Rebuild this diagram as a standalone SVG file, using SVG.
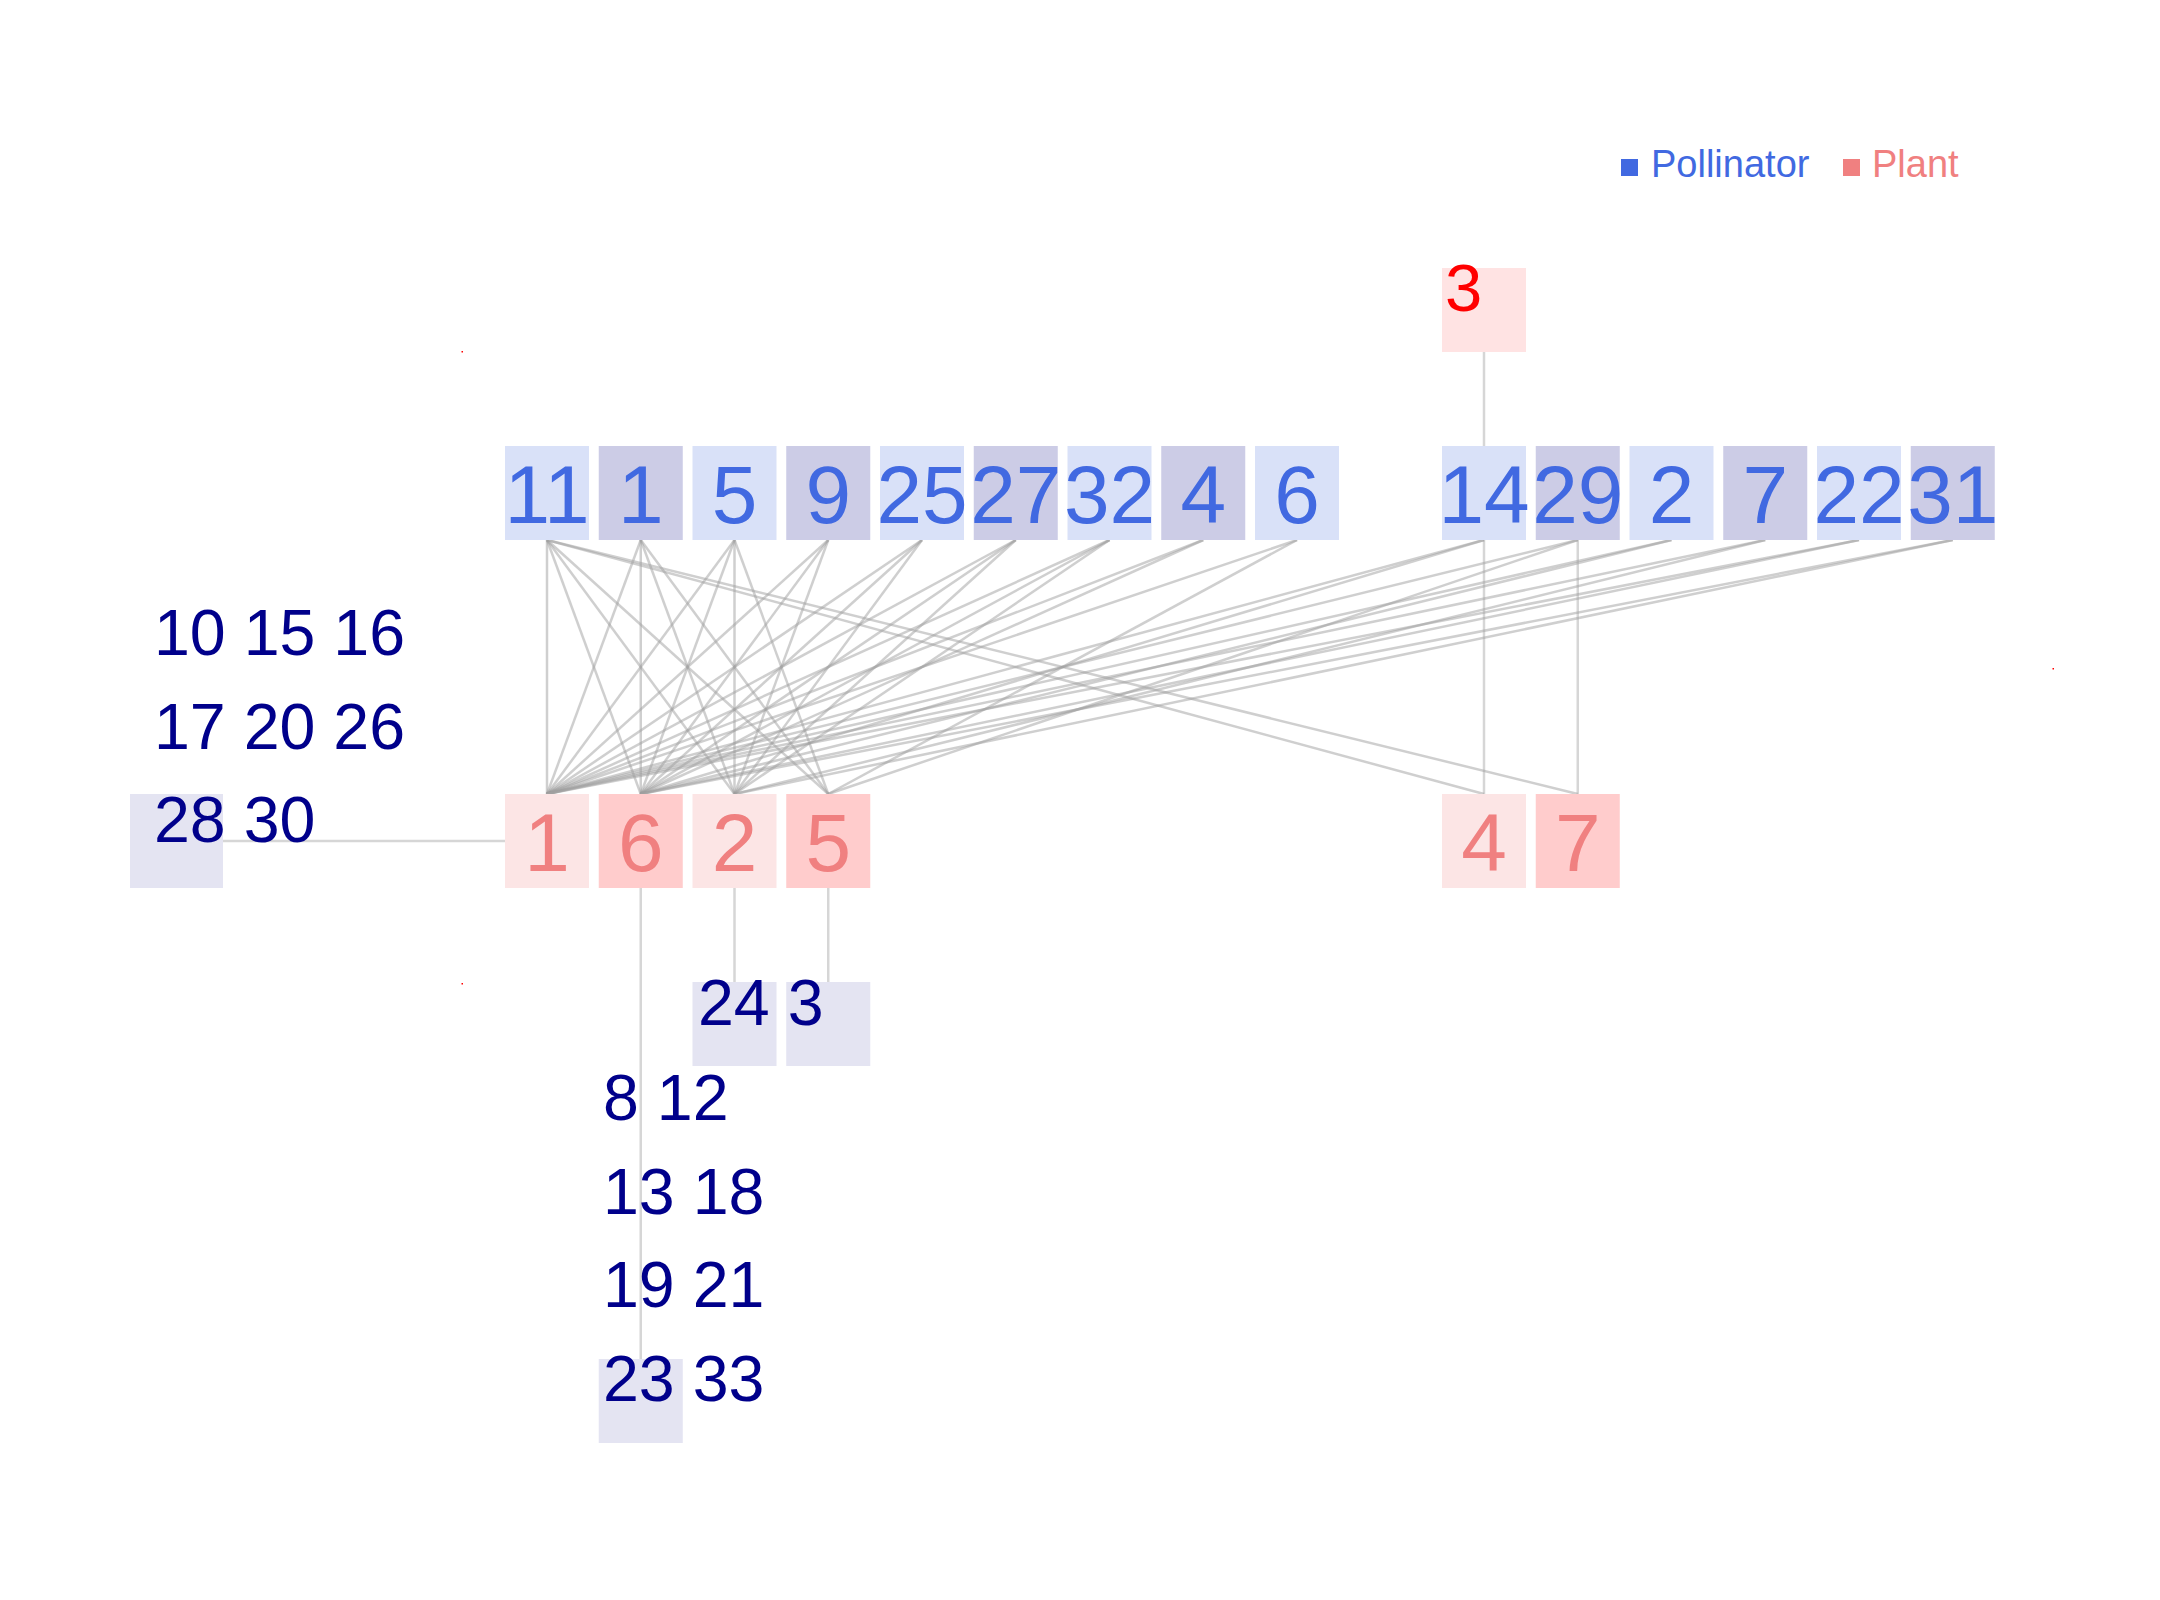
<svg xmlns="http://www.w3.org/2000/svg" width="2160" height="1600" viewBox="0 0 2160 1600">
<style>
.pl{fill:#D9E1F8}.pd{fill:#CCCCE6}.ql{fill:#FCE5E5}.qd{fill:#FFCCCC}.gb{fill:#E4E4F2}
.pt{font-family:"Liberation Sans",Arial,sans-serif;font-size:82px;fill:#4169E1;text-anchor:middle}
.qt{font-family:"Liberation Sans",Arial,sans-serif;font-size:82px;fill:#F08080;text-anchor:middle}
.nt{font-family:"Liberation Sans",Arial,sans-serif;font-size:64.5px;fill:#00008B}
.lg{font-family:"Liberation Sans",Arial,sans-serif;font-size:38px}
.e line{stroke:#a0a0a0;stroke-opacity:0.5;stroke-width:2.5}
.c line{stroke:#d6d6d6;stroke-width:2.5}
</style>
<rect width="2160" height="1600" fill="#fff"/>
<g id="legend">
<rect x="1621" y="159" width="17" height="17" fill="#4169E1"/>
<text class="lg" x="1651" y="177" fill="#4169E1">Pollinator</text>
<rect x="1843" y="159" width="17" height="17" fill="#F08080"/>
<text class="lg" x="1872" y="177" fill="#F08080">Plant</text>
</g>
<g id="marks" fill="#ff0000">
<rect x="461.5" y="351" width="1.5" height="1.5"/>
<rect x="461.5" y="983" width="1.5" height="1.5"/>
<rect x="2052.5" y="668" width="1.5" height="1.5"/>
</g>
<g id="connectors">
<g class="c">
<line x1="1484" y1="352" x2="1484" y2="446"/>
<line x1="223" y1="841" x2="505" y2="841"/>
<line x1="640.75" y1="888" x2="640.75" y2="1359"/>
<line x1="734.5" y1="888" x2="734.5" y2="982"/>
<line x1="828.25" y1="888" x2="828.25" y2="982"/>
<line x1="1484" y1="540" x2="1484" y2="794"/>
<line x1="1577.75" y1="540" x2="1577.75" y2="794"/>
</g>
<g class="e">
<line x1="547" y1="540" x2="547" y2="794"/>
<line x1="547" y1="540" x2="640.75" y2="794"/>
<line x1="547" y1="540" x2="734.5" y2="794"/>
<line x1="547" y1="540" x2="828.25" y2="794"/>
<line x1="547" y1="540" x2="1484" y2="794"/>
<line x1="547" y1="540" x2="1577.75" y2="794"/>
<line x1="640.75" y1="540" x2="547" y2="794"/>
<line x1="640.75" y1="540" x2="640.75" y2="794"/>
<line x1="640.75" y1="540" x2="734.5" y2="794"/>
<line x1="640.75" y1="540" x2="828.25" y2="794"/>
<line x1="734.5" y1="540" x2="547" y2="794"/>
<line x1="734.5" y1="540" x2="640.75" y2="794"/>
<line x1="734.5" y1="540" x2="734.5" y2="794"/>
<line x1="734.5" y1="540" x2="828.25" y2="794"/>
<line x1="828.25" y1="540" x2="547" y2="794"/>
<line x1="828.25" y1="540" x2="640.75" y2="794"/>
<line x1="828.25" y1="540" x2="734.5" y2="794"/>
<line x1="922" y1="540" x2="547" y2="794"/>
<line x1="922" y1="540" x2="640.75" y2="794"/>
<line x1="922" y1="540" x2="734.5" y2="794"/>
<line x1="1015.75" y1="540" x2="547" y2="794"/>
<line x1="1015.75" y1="540" x2="640.75" y2="794"/>
<line x1="1015.75" y1="540" x2="734.5" y2="794"/>
<line x1="1109.5" y1="540" x2="547" y2="794"/>
<line x1="1109.5" y1="540" x2="640.75" y2="794"/>
<line x1="1109.5" y1="540" x2="734.5" y2="794"/>
<line x1="1203.25" y1="540" x2="547" y2="794"/>
<line x1="1203.25" y1="540" x2="640.75" y2="794"/>
<line x1="1297" y1="540" x2="547" y2="794"/>
<line x1="1297" y1="540" x2="828.25" y2="794"/>
<line x1="1484" y1="540" x2="547" y2="794"/>
<line x1="1484" y1="540" x2="640.75" y2="794"/>
<line x1="1577.75" y1="540" x2="547" y2="794"/>
<line x1="1577.75" y1="540" x2="828.25" y2="794"/>
<line x1="1671.5" y1="540" x2="547" y2="794"/>
<line x1="1671.5" y1="540" x2="640.75" y2="794"/>
<line x1="1765.25" y1="540" x2="547" y2="794"/>
<line x1="1765.25" y1="540" x2="734.5" y2="794"/>
<line x1="1859" y1="540" x2="547" y2="794"/>
<line x1="1859" y1="540" x2="640.75" y2="794"/>
<line x1="1952.75" y1="540" x2="640.75" y2="794"/>
<line x1="1952.75" y1="540" x2="734.5" y2="794"/>
</g>
</g>
<g id="pollinator-11"><rect class="pl" x="505" y="446" width="84" height="94"/><text class="pt" x="547" y="522.5">11</text></g>
<g id="pollinator-1"><rect class="pd" x="598.75" y="446" width="84" height="94"/><text class="pt" x="640.75" y="522.5">1</text></g>
<g id="pollinator-5"><rect class="pl" x="692.5" y="446" width="84" height="94"/><text class="pt" x="734.5" y="522.5">5</text></g>
<g id="pollinator-9"><rect class="pd" x="786.25" y="446" width="84" height="94"/><text class="pt" x="828.25" y="522.5">9</text></g>
<g id="pollinator-25"><rect class="pl" x="880" y="446" width="84" height="94"/><text class="pt" x="922" y="522.5">25</text></g>
<g id="pollinator-27"><rect class="pd" x="973.75" y="446" width="84" height="94"/><text class="pt" x="1015.75" y="522.5">27</text></g>
<g id="pollinator-32"><rect class="pl" x="1067.5" y="446" width="84" height="94"/><text class="pt" x="1109.5" y="522.5">32</text></g>
<g id="pollinator-4"><rect class="pd" x="1161.25" y="446" width="84" height="94"/><text class="pt" x="1203.25" y="522.5">4</text></g>
<g id="pollinator-6"><rect class="pl" x="1255" y="446" width="84" height="94"/><text class="pt" x="1297" y="522.5">6</text></g>
<g id="pollinator-14"><rect class="pl" x="1442" y="446" width="84" height="94"/><text class="pt" x="1484" y="522.5">14</text></g>
<g id="pollinator-29"><rect class="pd" x="1535.75" y="446" width="84" height="94"/><text class="pt" x="1577.75" y="522.5">29</text></g>
<g id="pollinator-2"><rect class="pl" x="1629.5" y="446" width="84" height="94"/><text class="pt" x="1671.5" y="522.5">2</text></g>
<g id="pollinator-7"><rect class="pd" x="1723.25" y="446" width="84" height="94"/><text class="pt" x="1765.25" y="522.5">7</text></g>
<g id="pollinator-22"><rect class="pl" x="1817" y="446" width="84" height="94"/><text class="pt" x="1859" y="522.5">22</text></g>
<g id="pollinator-31"><rect class="pd" x="1910.75" y="446" width="84" height="94"/><text class="pt" x="1952.75" y="522.5">31</text></g>
<g id="plant-3"><rect x="1442" y="268" width="84" height="84" fill="#FFE3E3"/><text class="nt" x="1445" y="311" style="fill:#FF0000;font-size:67px">3</text></g>
<g id="plant-1"><rect class="ql" x="505" y="794" width="84" height="94"/><text class="qt" x="547" y="870.5">1</text></g>
<g id="plant-6"><rect class="qd" x="598.75" y="794" width="84" height="94"/><text class="qt" x="640.75" y="870.5">6</text></g>
<g id="plant-2"><rect class="ql" x="692.5" y="794" width="84" height="94"/><text class="qt" x="734.5" y="870.5">2</text></g>
<g id="plant-5"><rect class="qd" x="786.25" y="794" width="84" height="94"/><text class="qt" x="828.25" y="870.5">5</text></g>
<g id="plant-4"><rect class="ql" x="1442" y="794" width="84" height="94"/><text class="qt" x="1484" y="870.5">4</text></g>
<g id="plant-7"><rect class="qd" x="1535.75" y="794" width="84" height="94"/><text class="qt" x="1577.75" y="870.5">7</text></g>
<g id="group-28"><rect class="gb" x="130" y="794" width="93" height="94"/>
<text class="nt"><tspan x="154" y="655">10 15 16</tspan><tspan x="154" y="748.5">17 20 26</tspan><tspan x="154" y="842">28 30</tspan></text></g>
<g id="group-24-3"><rect class="gb" x="692.5" y="982" width="84" height="84"/><rect class="gb" x="786.25" y="982" width="84" height="84"/>
<text class="nt" x="698" y="1025">24 3</text></g>
<g id="group-23"><rect class="gb" x="598.75" y="1359" width="84" height="84"/>
<text class="nt"><tspan x="603" y="1120">8 12</tspan><tspan x="603" y="1213.5">13 18</tspan><tspan x="603" y="1307">19 21</tspan><tspan x="603" y="1400.5">23 33</tspan></text></g>
</svg>
